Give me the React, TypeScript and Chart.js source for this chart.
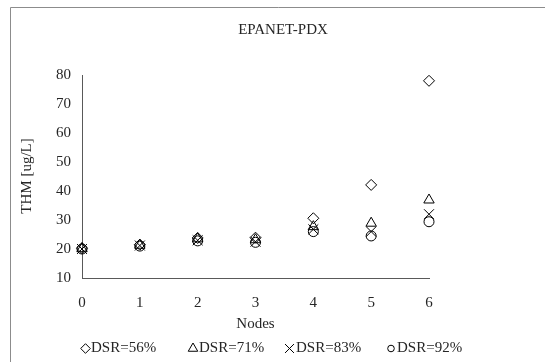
import React, { useEffect, useRef } from 'react';
import { Chart, registerables } from 'chart.js';
import { drawPoint } from 'chart.js/helpers';

Chart.register(...registerables);

const TITLE = 'EPANET-PDX';
const X_TITLE = 'Nodes';
const Y_TITLE = 'THM [ug/L]';
const NODES = [0, 1, 2, 3, 4, 5, 6];
const SERIES_LABELS = ['DSR=56%', 'DSR=71%', 'DSR=83%', 'DSR=92%'];
const DSR56 = [20.3, 21.5, 23.8, 23.9, 30.6, 42.1, 78.0];
const DSR71 = [20.1, 21.3, 23.5, 23.2, 27.7, 28.9, 36.9];
const DSR83 = [20.0, 21.2, 23.0, 22.5, 26.8, 26.0, 32.0];
const DSR92 = [20.0, 21.0, 22.8, 22.3, 26.0, 24.5, 29.4];
const Y_MIN = 10;
const Y_MAX = 80;
const Y_STEP = 10;

const FONT = '"Liberation Serif", "Times New Roman", serif';
const TEXT = '#262626';
const AXIS = '#595959';

const STYLES = [
  { pointStyle: 'rectRot', radius: 5.5, legendRadius: 4.8 },
  { pointStyle: 'triangle', radius: 6, legendRadius: 5.5 },
  { pointStyle: 'crossRot', radius: 7, legendRadius: 6.3 },
  { pointStyle: 'circle', radius: 5, legendRadius: 3.3 },
];
const LEGEND_X = [85.5, 193, 289.5, 391];
const LEGEND_TEXT_X = [91, 199, 296, 397];

const decorPlugin = {
  id: 'decor',
  beforeDraw(chart: any) {
    const ctx = chart.ctx;
    ctx.save();
    ctx.fillStyle = '#ffffff';
    ctx.fillRect(0, 0, chart.width, chart.height);
    ctx.restore();
  },
  afterDraw(chart: any) {
    const ctx = chart.ctx;
    const area = chart.chartArea;
    ctx.save();
    // outer frame (left and top visible)
    ctx.strokeStyle = '#8c8c8c';
    ctx.lineWidth = 1;
    ctx.beginPath();
    ctx.moveTo(10.5, chart.height + 2);
    ctx.lineTo(10.5, 7.5);
    ctx.lineTo(chart.width + 2, 7.5);
    ctx.stroke();

    ctx.fillStyle = TEXT;
    ctx.font = `15px ${FONT}`;
    ctx.textAlign = 'center';
    ctx.textBaseline = 'middle';
    ctx.fillText(TITLE, 283, 30);
    ctx.fillText(X_TITLE, (area.left + area.right) / 2, 324);

    ctx.save();
    ctx.translate(27, 176);
    ctx.rotate(-Math.PI / 2);
    ctx.fillText(Y_TITLE, 0, 0);
    ctx.restore();

    // legend
    const ly = 348.5;
    chart.data.datasets.forEach((ds: any, i: number) => {
      ctx.strokeStyle = '#000000';
      ctx.fillStyle = 'rgba(0,0,0,0)';
      ctx.lineWidth = 1;
      drawPoint(ctx, { pointStyle: STYLES[i].pointStyle, radius: STYLES[i].legendRadius, rotation: 0, borderWidth: 1 } as any, LEGEND_X[i], ly);
      ctx.fillStyle = TEXT;
      ctx.textAlign = 'left';
      ctx.textBaseline = 'middle';
      ctx.fillText(ds.label, LEGEND_TEXT_X[i], ly);
    });
    ctx.restore();
  },
};

export default function App() {
  const ref = useRef<HTMLCanvasElement | null>(null);
  useEffect(() => {
    if (!ref.current) return;
    const series = [DSR56, DSR71, DSR83, DSR92];
    const chart = new Chart(ref.current, {
      type: 'scatter',
      data: {
        datasets: series.map((vals, i) => ({
          label: SERIES_LABELS[i],
          data: NODES.map((n, j) => ({ x: n, y: vals[j] })),
          pointStyle: STYLES[i].pointStyle as any,
          pointRadius: STYLES[i].radius,
          pointHoverRadius: STYLES[i].radius,
          pointBorderColor: '#000000',
          pointBackgroundColor: 'rgba(0,0,0,0)',
          pointBorderWidth: 1,
          showLine: false,
          clip: false as any,
        })),
      },
      options: {
        animation: false,
        responsive: false,
        maintainAspectRatio: false,
        layout: { padding: { top: 75, right: 116, left: 0, bottom: 0 } },
        plugins: {
          legend: { display: false },
          title: { display: false },
          tooltip: { enabled: false },
        },
        scales: {
          x: {
            type: 'linear',
            min: 0,
            max: 6,
            afterFit: (s: any) => { s.height = 84; },
            ticks: {
              stepSize: 1,
              color: TEXT,
              font: { family: FONT, size: 15 },
              padding: 16,
              maxRotation: 0,
            },
            grid: { display: false, drawTicks: false },
            border: { display: true, color: AXIS, width: 1 },
          },
          y: {
            type: 'linear',
            min: Y_MIN,
            max: Y_MAX,
            afterFit: (s: any) => { s.width = 82; },
            ticks: {
              stepSize: Y_STEP,
              color: TEXT,
              font: { family: FONT, size: 15 },
              padding: 11,
            },
            grid: { display: false, drawTicks: false },
            border: { display: true, color: AXIS, width: 1 },
          },
        },
      },
      plugins: [decorPlugin],
    });
    return () => chart.destroy();
  }, []);
  return (
    <div style={{ position: 'fixed', left: 0, top: 0, width: 545, height: 362, background: '#fff' }}>
      <canvas ref={ref} width={545} height={362} style={{ display: 'block', width: 545, height: 362 }} />
    </div>
  );
}
